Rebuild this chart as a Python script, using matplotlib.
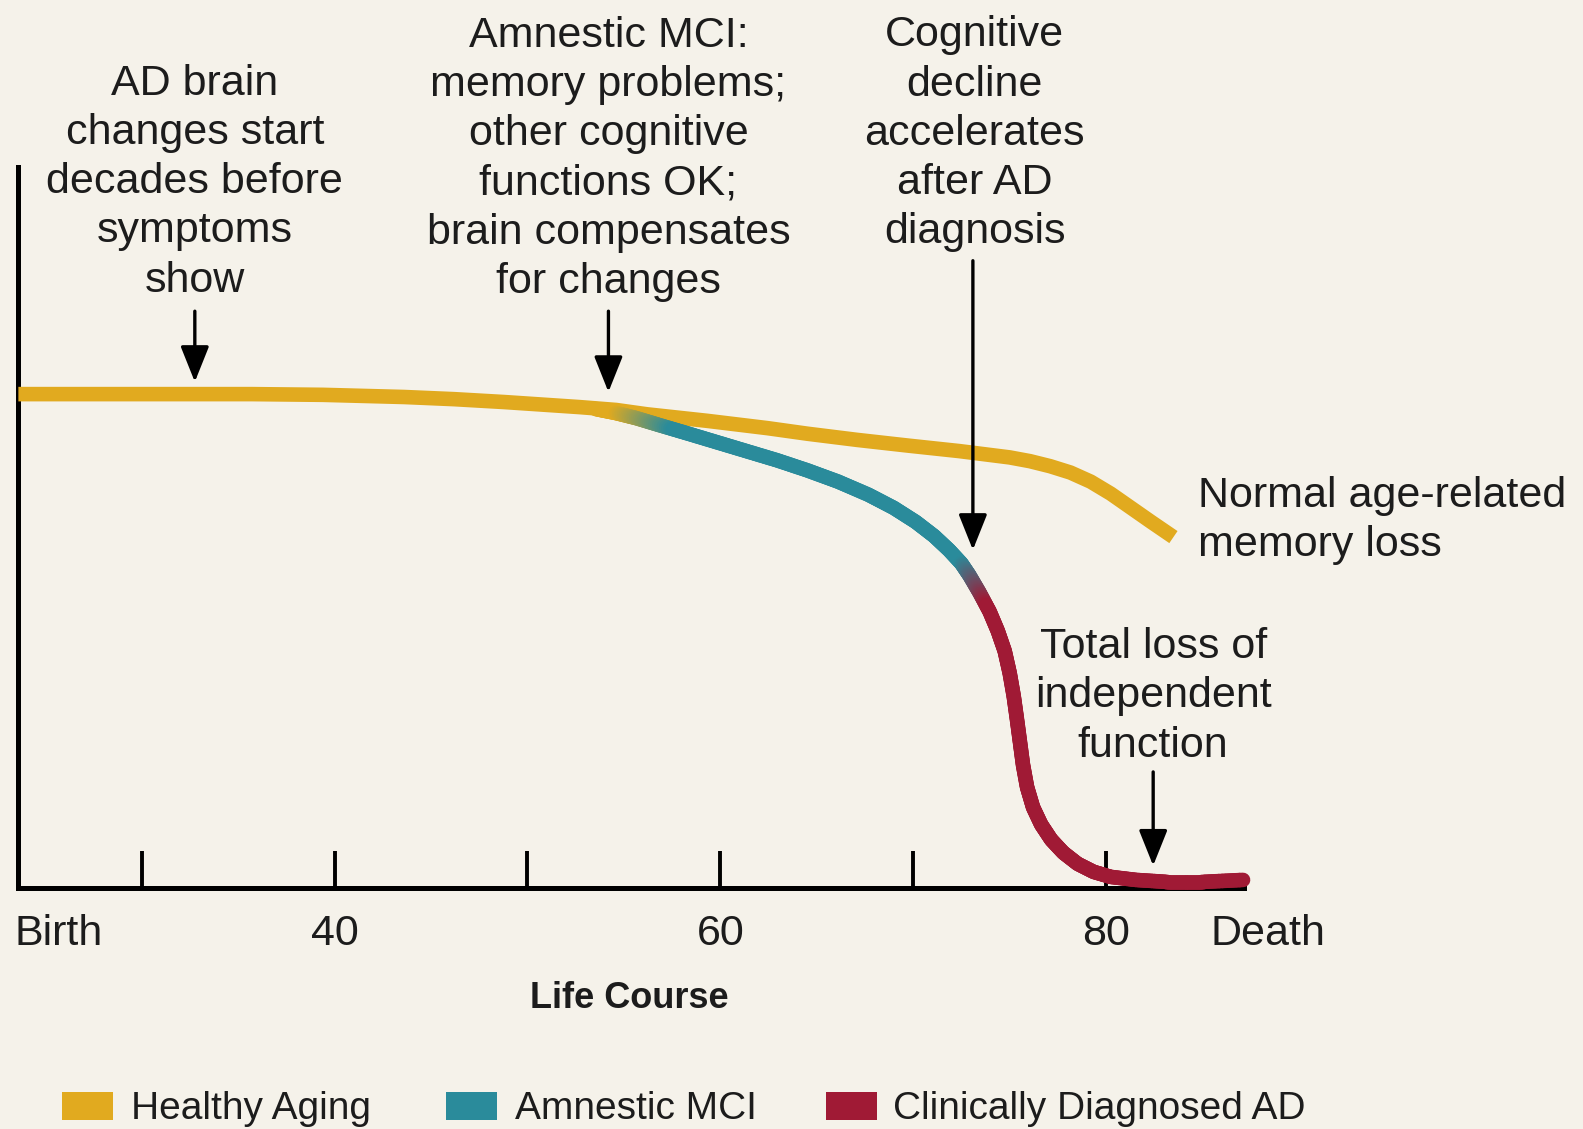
import numpy as np
import matplotlib
matplotlib.use("Agg")
import matplotlib.pyplot as plt
from matplotlib.collections import LineCollection
from matplotlib.patches import Rectangle
from matplotlib.colors import to_rgb

# ---------------- data (age in years, cognitive function score 0-100) -------------
healthy_age = [23.6, 30.5, 35.7, 39.4, 43.6, 46.2, 48.8, 52.7, 54.6, 56.2, 59.3,
               62.45, 64.54, 67.1, 69.77, 72.39, 75.01, 76.06, 77.11, 78.16,
               79.21, 80.25, 81.3, 82.35, 83.5]
healthy_score = [68.5, 68.5, 68.5, 68.4, 68.1, 67.8, 67.4, 66.7, 66.3, 65.7, 64.8,
                 63.78, 63.0, 62.15, 61.35, 60.6, 59.72, 59.2, 58.5, 57.62,
                 56.36, 54.69, 52.73, 50.77, 48.67]

mci_age = [53.54, 54.59, 55.64, 56.84, 58.26, 59.83, 61.4, 62.97, 64.54, 66.11,
           67.68, 68.99, 70.14, 71.09, 71.87, 72.5, 72.92]
mci_score = [66.43, 65.87, 65.17, 64.2, 63.08, 61.82, 60.56, 59.3, 57.9, 56.36,
             54.55, 52.73, 50.77, 48.81, 46.85, 45.03, 43.36]

ad_age = [72.92, 73.44, 73.97, 74.39, 74.75, 75.01, 75.22, 75.38, 75.54, 75.7,
          75.91, 76.22, 76.64, 77.16, 77.79, 78.53, 79.36, 80.25, 81.56, 83.19,
          84.97, 87.11]
ad_score = [43.36, 40.98, 38.32, 35.66, 32.87, 29.79, 26.57, 23.5, 20.28, 17.06,
            13.99, 11.19, 8.81, 6.71, 4.9, 3.36, 2.24, 1.54, 1.12, 0.84,
            0.84, 1.12]

tick_ages = [30, 40, 50, 60, 70, 80]
tick_labels = ["", "40", "", "60", "", "80"]
end_labels = ["Birth", "Death"]
end_label_ages = [25.7, 88.4]
x_title = "Life Course"

legend_labels = ["Healthy Aging", "Amnestic MCI", "Clinically Diagnosed AD"]

annotations = [
    "AD brain\nchanges start\ndecades before\nsymptoms\nshow",
    "Amnestic MCI:\nmemory problems;\nother cognitive\nfunctions OK;\nbrain compensates\nfor changes",
    "Cognitive\ndecline\naccelerates\nafter AD\ndiagnosis",
    "Total loss of\nindependent\nfunction",
]
annotation_xy = [(32.75, 97.9), (54.2, 101.1), (73.2, 104.6), (82.45, 26.6)]
arrow_from = [(32.75, 80.0), (54.2, 80.0), (73.1, 87.0), (82.45, 16.1)]
arrow_to = [(32.75, 70.2), (54.2, 68.8), (73.1, 46.9), (82.45, 3.1)]
side_label = "Normal age-related\nmemory loss"
side_label_xy = (84.8, 51.0)

# ---------------- styling --------------------------------------------------------
BG = "#F5F2EA"
YELLOW = "#E1AA1F"
TEAL = "#2A8B9B"
RED = "#A01A35"
TXT = "#1C1C1C"
FONT = ["Liberation Sans", "DejaVu Sans"]
NARROW = ["Liberation Sans Narrow", "Liberation Sans", "DejaVu Sans"]

W, H = 1583, 1129
fig = plt.figure(figsize=(W / 100, H / 100), dpi=100, facecolor=BG)

left_px, right_px, bottom_px, top_px = 18, 1244, 888, 167
ax = fig.add_axes([left_px / W, (H - bottom_px) / H,
                   (right_px - left_px) / W, (bottom_px - top_px) / H])
ax.set_facecolor(BG)
ax.set_xlim(23.58, 87.16)
ax.set_ylim(0, 100)
for s in ["top", "right"]:
    ax.spines[s].set_visible(False)
for s in ["left", "bottom"]:
    ax.spines[s].set_linewidth(3.6)
    ax.spines[s].set_color("black")
ax.set_yticks([])
ax.set_xticks(tick_ages)
ax.set_xticklabels(tick_labels, fontfamily=FONT, fontsize=31, color=TXT)
ax.tick_params(axis="x", direction="in", length=27, width=2.8, pad=19, color="black")

for lab, a in zip(end_labels, end_label_ages):
    ax.annotate(lab, xy=(a, 0), xycoords=("data", "axes fraction"),
                xytext=(0, -19), textcoords="offset points", ha="center", va="top",
                fontsize=31, family=FONT, color=TXT, annotation_clip=False)

ax.annotate(x_title, xy=(55.3, 0), xycoords=("data", "axes fraction"),
            xytext=(0, -67), textcoords="offset points", ha="center", va="top",
            fontsize=26, family=NARROW, fontweight="bold", color=TXT,
            annotation_clip=False)

LW = 10.5


def gradient_line(xs, ys, stops, lw, z):
    xs = np.asarray(xs, float)
    ys = np.asarray(ys, float)
    pts = ax.transData.transform(np.column_stack([xs, ys]))
    seglen = np.hypot(*np.diff(pts, axis=0).T)
    cum = np.concatenate([[0], np.cumsum(seglen)])
    segs, cols = [], []
    sx = [s[0] for s in stops]
    rgb = np.array([to_rgb(s[1]) for s in stops])
    for i in range(len(xs) - 1):
        n = 12
        for k in range(n):
            t0, t1 = k / n, (k + 1) / n
            p0 = (xs[i] + (xs[i + 1] - xs[i]) * t0, ys[i] + (ys[i + 1] - ys[i]) * t0)
            p1 = (xs[i] + (xs[i + 1] - xs[i]) * t1, ys[i] + (ys[i + 1] - ys[i]) * t1)
            pos = cum[i] + seglen[i] * (t0 + t1) / 2
            c = [np.interp(pos, sx, rgb[:, j]) for j in range(3)]
            segs.append([p0, p1])
            cols.append(c)
    lc = LineCollection(segs, colors=cols, linewidths=lw, capstyle="round",
                        zorder=z, clip_on=False)
    ax.add_collection(lc)
    return cum[-1]


ax.plot(healthy_age, healthy_score, color=YELLOW, lw=LW, solid_capstyle="butt",
        solid_joinstyle="round", zorder=3, clip_on=False)

# combined decline path: MCI then AD
dec_x = list(mci_age) + list(ad_age[1:])
dec_y = list(mci_score) + list(ad_score[1:])
mci_pts = ax.transData.transform(np.column_stack([mci_age, mci_score]))
mci_len = np.hypot(*np.diff(mci_pts, axis=0).T).sum()
stops = [(0, YELLOW), (20, YELLOW), (80, TEAL), (mci_len - 15, TEAL),
         (mci_len + 35, RED), (1e5, RED)]
gradient_line(dec_x, dec_y, stops, LW, 4)

# annotations
for txt, (tx, ty), p0, p1 in zip(annotations, annotation_xy, arrow_from, arrow_to):
    ax.text(tx, ty, txt, ha="center", va="center", fontsize=31, family=FONT,
            color=TXT, linespacing=1.3, clip_on=False)
    ax.annotate("", xy=p1, xytext=p0, annotation_clip=False,
                arrowprops=dict(arrowstyle="-|>,head_length=0.55,head_width=0.22",
                                mutation_scale=40, lw=2.4, color="black",
                                shrinkA=0, shrinkB=0))

ax.text(side_label_xy[0], side_label_xy[1], side_label, ha="left", va="center",
        fontsize=31, family=FONT, color=TXT, linespacing=1.3, clip_on=False)

# legend
leg_colors = [YELLOW, TEAL, RED]
patch_x = [62, 446, 826]
text_x = [131, 515, 893]
for lab, c, px_, tx_ in zip(legend_labels, leg_colors, patch_x, text_x):
    fig.add_artist(Rectangle((px_ / W, (H - 1120) / H), 51 / W, 28 / H,
                             transform=fig.transFigure, facecolor=c, edgecolor="none"))
    fig.text(tx_ / W, (H - 1119) / H, lab, ha="left", va="baseline", fontsize=28,
             family=FONT, color=TXT)

fig.savefig("out.png", dpi=100, facecolor=BG)
